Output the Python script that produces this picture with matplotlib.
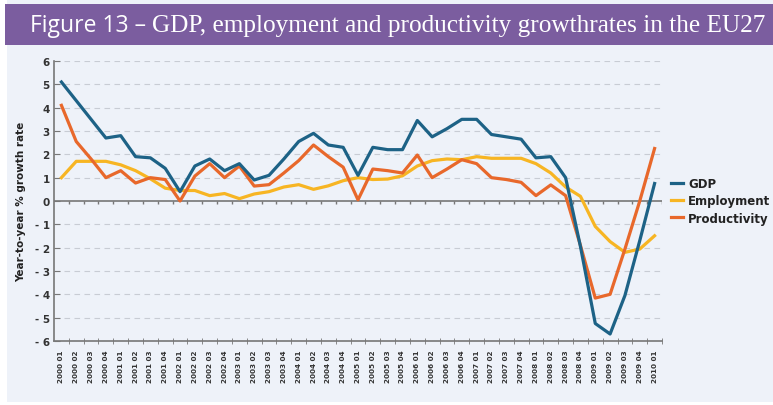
import matplotlib
matplotlib.use("Agg")
import matplotlib.pyplot as plt
from matplotlib.patches import Rectangle

# quarters 2000 Q1 .. 2010 Q1
years = list(range(2000, 2011))
quarters = [f"{y} 0{q}" for y in years for q in range(1, 5)][:41]

gdp = [5.1, 4.3, 3.5, 2.7, 2.8, 1.9, 1.85, 1.4, 0.4, 1.5, 1.8, 1.3, 1.6, 0.9, 1.1, 1.8,
       2.55, 2.9, 2.4, 2.3, 1.1, 2.3, 2.2, 2.2, 3.45, 2.75, 3.1, 3.5, 3.5, 2.85, 2.75,
       2.65, 1.85, 1.9, 1.0, -1.95, -5.25, -5.7, -4.05, -1.7, 0.75]
employment = [1.0, 1.7, 1.7, 1.7, 1.55, 1.3, 0.95, 0.55, 0.45, 0.45, 0.23, 0.32, 0.1,
              0.3, 0.4, 0.6, 0.7, 0.5, 0.65, 0.87, 1.0, 0.92, 0.94, 1.08, 1.5, 1.73,
              1.8, 1.77, 1.9, 1.83, 1.83, 1.83, 1.6, 1.2, 0.6, 0.2, -1.09, -1.74,
              -2.2, -2.06, -1.49]
productivity = [4.1, 2.55, 1.8, 1.0, 1.3, 0.77, 1.0, 0.92, 0.0, 1.07, 1.6, 1.0, 1.5,
                0.64, 0.7, 1.2, 1.73, 2.4, 1.9, 1.45, 0.05, 1.37, 1.3, 1.2, 1.97, 1.0,
                1.37, 1.77, 1.6, 1.0, 0.92, 0.8, 0.23, 0.69, 0.23, -1.9, -4.16, -4.0,
                -2.06, 0.0, 2.25]

yticks = list(range(-6, 7))

W, H = 773, 406
fig = plt.figure(figsize=(W / 100, H / 100), dpi=100)
fig.patch.set_facecolor("white")

# panel background and title band
fig.add_artist(Rectangle((7 / W, 3 / H), 1, 1, transform=fig.transFigure,
                         facecolor="#eef2f9", edgecolor="none", zorder=-2))
fig.add_artist(Rectangle((5 / W, 1 - 46 / H), 1, 41 / H, transform=fig.transFigure,
                         facecolor="#7b5d9f", edgecolor="none", zorder=-1))

t1 = fig.text(30 / W, 1 - 26 / H, "Figure 13 \u2013", color="white", fontsize=16.5,
              family="Open Sans", va="center", ha="left")
fig.canvas.draw()
bb = t1.get_window_extent()
fig.text((bb.x1 + 6) / W, 1 - 26 / H,
         "GDP, employment and productivity growthrates in the EU27",
         color="white", fontsize=18.2, family="Liberation Serif", va="center", ha="left")

ax = fig.add_axes([54 / W, 1 - 342 / H, (662 - 54) / W, (342 - 62) / H])
ax.set_facecolor("#eef2f9")

x = list(range(len(quarters)))
ax.plot(x, gdp, color="#1d6286", lw=2.3, label="GDP", zorder=4)
ax.plot(x, employment, color="#f7b523", lw=2.3, label="Employment", zorder=3)
ax.plot(x, productivity, color="#e8682b", lw=2.3, label="Productivity", zorder=3)

ax.set_xlim(-0.5, 40.5)
ax.set_ylim(-6, 6)
ax.set_yticks(yticks)
ax.set_yticklabels([str(v) if v >= 0 else f"- {abs(v)}" for v in yticks],
                   fontsize=7.5, fontweight="bold", color="#333333")
for v in yticks:
    if v not in (0, -6):
        ax.axhline(v, color="#c8ccd4", lw=0.8, ls=(0, (5, 4)), zorder=1)
ax.axhline(0, color="#777777", lw=1.2, zorder=2)

# tick marks on the zero line at category boundaries
bounds = [i + 0.5 for i in range(len(quarters))]
ax.vlines(bounds, -0.12, 0, color="#777777", lw=1, zorder=2)

ax.set_xticks(x)
ax.set_xticklabels(quarters, rotation=90, fontsize=5.2, fontweight="bold",
                   color="#333333")
ax.tick_params(axis="x", length=0, pad=6)
ax.set_xticks(bounds, minor=True)
ax.tick_params(axis="x", which="minor", length=4, direction="inout", color="#777777")
ax.tick_params(axis="y", length=4, direction="in", color="#777777", pad=3)

for s in ["top", "right"]:
    ax.spines[s].set_visible(False)
for s in ["left", "bottom"]:
    ax.spines[s].set_color("#777777")
    ax.spines[s].set_linewidth(1.2)

ax.set_ylabel("Year-to-year % growth rate", fontsize=7.5, fontweight="bold",
              color="#222222", labelpad=6)

leg = ax.legend(loc="center left", bbox_to_anchor=(1.0, 0.5), frameon=False,
                borderaxespad=0.6, borderpad=0.2, handlelength=1.0,
                handletextpad=0.4, labelspacing=0.35,
                prop={"size": 8.5, "weight": "bold"})
for t in leg.get_texts():
    t.set_color("#222222")

fig.savefig("out.png", dpi=100)
